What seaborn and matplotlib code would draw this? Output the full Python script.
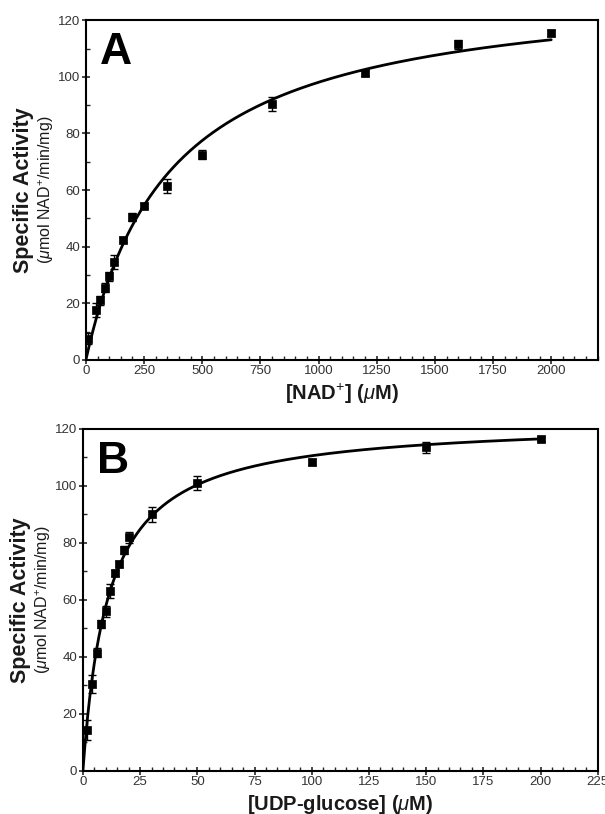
### Packages
import numpy as np
import matplotlib
matplotlib.use('Agg')
import matplotlib.pyplot as plt
from matplotlib.ticker import MultipleLocator
import seaborn as sns
import pandas as pd

sns.set_theme(style='ticks')
plt.rcParams['font.family'] = ['Liberation Sans', 'DejaVu Sans']
plt.rcParams['mathtext.fontset'] = 'custom'
plt.rcParams['mathtext.rm'] = 'Liberation Sans'
plt.rcParams['mathtext.it'] = 'Liberation Sans:italic'
plt.rcParams['mathtext.bf'] = 'Liberation Sans:bold'

### Data
# Panel A: NAD+ saturation
nad_conc = [10, 45, 60, 80, 100, 120, 160, 200, 250, 350, 500, 800, 1200, 1600, 2000]
nad_act = [7.5, 17.5, 21, 25.5, 29.5, 34.5, 42.5, 50.5, 54.5, 61.5, 72.5, 90.5, 101.5, 111.5, 115.5]
nad_err = [2, 2.5, 1.5, 1.5, 1.5, 2.5, 1, 1.5, 1, 2.5, 1.5, 2.5, 1, 1.5, 1]

# Panel B: UDP-glucose saturation
udp_conc = [2, 4, 6, 8, 10, 12, 14, 16, 18, 20, 30, 50, 100, 150, 200]
udp_act = [14.5, 30.5, 41.5, 51.5, 56, 63, 69.5, 72.5, 77.5, 82, 90, 101, 108.5, 113.5, 116.5]
udp_err = [3.5, 3, 1.5, 1.5, 2, 2.5, 1, 1, 1.5, 2, 2.5, 2.5, 1, 2, 0.8]

### Functions
def fitMM(s, v, km_max):
    """Least-squares Michaelis-Menten fit (grid over Km, Vmax solved linearly)"""
    s = np.array(s, dtype=float)
    v = np.array(v, dtype=float)
    best = (np.inf, None, None)
    for km in np.linspace(km_max / 2000, km_max, 4000):
        f = s / (km + s)
        vmax = (f @ v) / (f @ f)
        sse = ((v - vmax * f) ** 2).sum()
        if sse < best[0]:
            best = (sse, vmax, km)
    return best[1], best[2]

def drawPanel(ax, conc, act, err, xmax, xmajor, xminor, letter, xlabel):
    vmax, km = fitMM(conc, act, km_max=max(conc))
    xs = np.linspace(0, max(conc), 400)
    curve = pd.DataFrame({'x': xs, 'y': vmax * xs / (km + xs)})
    pts = pd.DataFrame({'x': conc, 'y': act})

    sns.lineplot(x='x', y='y', data=curve, ax=ax, color='black', linewidth=2.0,
                 estimator=None, sort=False, zorder=2)
    ax.errorbar(conc, act, yerr=err, fmt='none', ecolor='black',
                elinewidth=1.0, capsize=3, capthick=1.0, zorder=3)
    sns.scatterplot(x='x', y='y', data=pts, ax=ax, marker='s', s=26,
                    color='black', edgecolor='black', linewidth=0.5, zorder=4)

    ax.set_xlim(0, xmax)
    ax.set_ylim(0, 120)
    ax.xaxis.set_major_locator(MultipleLocator(xmajor))
    ax.xaxis.set_minor_locator(MultipleLocator(xminor))
    ax.yaxis.set_major_locator(MultipleLocator(20))
    ax.yaxis.set_minor_locator(MultipleLocator(10))
    ax.tick_params(which='major', direction='inout', length=6, width=1.2,
                   labelsize=9.5, labelcolor='#333333', pad=1)
    ax.tick_params(which='minor', direction='in', length=3, width=1.0)
    ax.tick_params(top=False, right=False, which='both')
    for sp in ax.spines.values():
        sp.set_linewidth(1.5)
        sp.set_color('black')

    ax.set_xlabel(xlabel, fontsize=14.5, fontweight='bold', color='#1a1a1a', labelpad=3)
    ax.set_ylabel('')
    ax.text(-0.122, 0.5, 'Specific Activity', transform=ax.transAxes, rotation=90,
            ha='center', va='center', fontsize=15.5, fontweight='bold', color='#1a1a1a')
    ax.text(-0.078, 0.5, r'($\mu$mol NAD$^{+}$/min/mg)', transform=ax.transAxes,
            rotation=90, ha='center', va='center', fontsize=11.5, color='#1a1a1a')
    ax.text(0.027, 0.965, letter, transform=ax.transAxes, ha='left', va='top',
            fontsize=32, fontweight='bold', color='black')

### Script
fig = plt.figure(figsize=(6.05, 8.14), dpi=100)
axA = fig.add_axes([0.142, 0.558, 0.846, 0.417])
axB = fig.add_axes([0.137, 0.053, 0.851, 0.420])

drawPanel(axA, nad_conc, nad_act, nad_err, 2200, 250, 50, 'A',
          r'[NAD$^{+}$] ($\mu$M)')
drawPanel(axB, udp_conc, udp_act, udp_err, 225, 25, 5, 'B',
          r'[UDP-glucose] ($\mu$M)')

fig.savefig('out.png', dpi=100, facecolor='white')
